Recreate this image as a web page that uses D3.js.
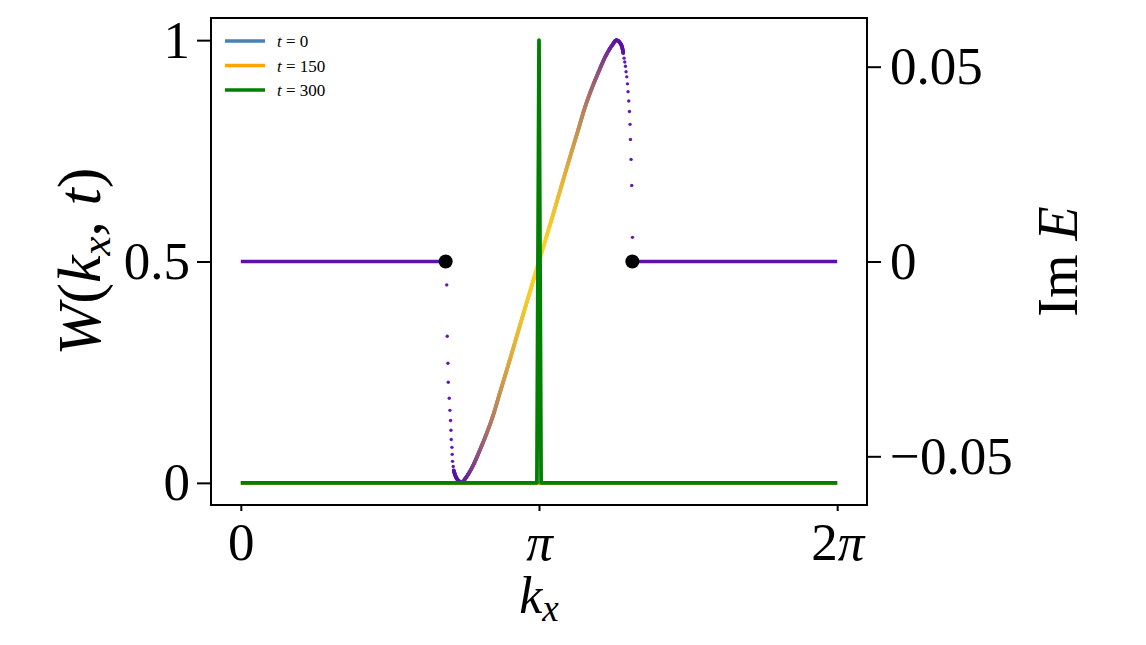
<!DOCTYPE html>
<html>
<head>
  <style>
  body {
    margin: 0;
    background: #fff;
  }
  svg text {
    font-family: "Liberation Serif", "DejaVu Serif", serif;
    fill: #000;
  }
  .axis .domain {
    display: none;
  }
  .axis .tick line {
    stroke: #000;
    stroke-width: 2px;
  }
  .axis .tick text {
    font-size: 53px;
  }
  .legend text {
    font-size: 17px;
  }
  </style>
</head>
<body>
  <div id="chart"></div>
  <script src="https://d3js.org/d3.v7.min.js"></script>
  <script>
  // k values are stored in units of pi
  var kTicks = [0, 1, 2];
  var kTickLabels = ["0", "π", "2π"];
  var wTicks = [0, 0.5, 1];
  var eTicks = [-0.05, 0, 0.05];

  // W(k_x, t) curves
  var legendLabels = ["0", "150", "300"];
  var legendColors = ["steelblue", "orange", "green"];
  var kW = [0, 0.993, 1, 1.007, 2];
  var w0 = [0, 0, 0, 0, 0];
  var w150 = [0, 0, 0, 0, 0];
  var w300 = [0, 0, 1, 0, 0];

  // Im E: flat parts, exceptional points, sparse dots, dense part
  var kFlatLeft = [0, 0.687];
  var kFlatRight = [1.313, 2];
  var kEP = [0.687, 1.313];
  var kDotsLeft = [0.6906, 0.6923, 0.6946, 0.6957, 0.6990, 0.7013, 0.7033, 0.7047, 0.7057, 0.7080, 0.7090, 0.7100, 0.7124];
  var eDotsLeft = [-0.0060, -0.0192, -0.0261, -0.0310, -0.0351, -0.0382, -0.0408, -0.0433, -0.0457, -0.0477, -0.0495, -0.0513, -0.0526];
  var kDotsRight = [1.2853, 1.2876, 1.2900, 1.2920, 1.2943, 1.2967, 1.2987, 1.3010, 1.3033, 1.3054, 1.3067, 1.3087, 1.3110, 1.3134];
  var eDotsRight = [0.0522, 0.0512, 0.0501, 0.0487, 0.0474, 0.0456, 0.0436, 0.0412, 0.0385, 0.0352, 0.0313, 0.0262, 0.0195, 0.0062];
  var kBand = [0.7140, 0.7191, 0.7258, 0.7341, 0.7415, 0.752, 0.765, 0.78, 0.80, 0.82, 0.844, 0.87, 0.90, 0.95, 1.0,
               1.05, 1.10, 1.13, 1.156, 1.18, 1.20, 1.22, 1.235, 1.248, 1.2585, 1.2659, 1.2709, 1.2776, 1.2826];
  var eBand = [-0.0536, -0.0549, -0.0559, -0.0565, -0.0568, -0.0558, -0.0543, -0.0522, -0.0487, -0.0450, -0.0400, -0.0334, -0.0258, -0.0128, 0,
               0.0128, 0.0258, 0.0334, 0.0400, 0.0450, 0.0487, 0.0522, 0.0543, 0.0558, 0.0568, 0.0566, 0.0562, 0.0553, 0.0535];

  var width = 1146, height = 645;
  var box = {left: 211, right: 867, top: 18, bottom: 505};

  var svg = d3.select("#chart").append("svg")
      .attr("width", width)
      .attr("height", height);

  var x = d3.scaleLinear().domain([-0.1, 2.1]).range([box.left, box.right]);
  var yW = d3.scaleLinear().domain([-0.05, 1.05]).range([box.bottom, box.top]);
  var yE = d3.scaleLinear().domain([-0.0625, 0.0625]).range([box.bottom, box.top]);

  var purple = "#5a12a8", gold = "#fcd226";
  var colorAt = d3.interpolateRgb(purple, gold);
  var kPeak = 1.2585;
  function tone(k) {
    var r = Math.min(1, Math.abs(k - 1) / (kPeak - 1));
    return 1 - Math.pow(r, 1.6);
  }

  var plot = svg.append("g");

  // Im E, flat parts
  var lineE = d3.line().x(function(d){ return x(d); }).y(function(){ return yE(0); });
  [kFlatLeft, kFlatRight].forEach(function(seg){
    plot.append("path")
        .attr("d", lineE(seg))
        .attr("fill", "none")
        .attr("stroke", purple)
        .attr("stroke-width", 3.6);
  });

  // Im E, dense band drawn in small coloured pieces
  var band = kBand.map(function(k, i){ return [x(k), yE(eBand[i])]; });
  var probe = plot.append("path")
      .attr("d", d3.line().curve(d3.curveCatmullRom)(band))
      .attr("fill", "none")
      .attr("stroke", "none");
  var node = probe.node(), total = node.getTotalLength(), step = 1.2;
  for (var s = 0; s < total; s += step) {
    var p0 = node.getPointAtLength(s), p1 = node.getPointAtLength(Math.min(total, s + step));
    plot.append("line")
        .attr("x1", p0.x).attr("y1", p0.y)
        .attr("x2", p1.x).attr("y2", p1.y)
        .attr("stroke", colorAt(tone(x.invert((p0.x + p1.x) / 2))))
        .attr("stroke-width", 3.8)
        .attr("stroke-linecap", "round");
  }
  probe.remove();

  // Im E, sparse dots near the exceptional points
  var dots = kDotsLeft.map(function(k, i){ return [k, eDotsLeft[i]]; })
    .concat(kDotsRight.map(function(k, i){ return [k, eDotsRight[i]]; }));
  plot.selectAll("circle.dot")
      .data(dots)
    .enter().append("circle")
      .attr("class", "dot")
      .attr("cx", function(d){ return x(d[0]); })
      .attr("cy", function(d){ return yE(d[1]); })
      .attr("r", 1.7)
      .attr("fill", "#6419b0");

  // W(k_x, t) lines
  var lineW = d3.line().x(function(d){ return x(d[0]); }).y(function(d){ return yW(d[1]); });
  [w0, w150, w300].forEach(function(ws, j){
    plot.append("path")
        .attr("d", lineW(kW.map(function(k, i){ return [k, ws[i]]; })))
        .attr("fill", "none")
        .attr("stroke", legendColors[j])
        .attr("stroke-width", 3.8)
        .attr("stroke-linejoin", "round");
  });

  // exceptional points
  plot.selectAll("circle.ep")
      .data(kEP)
    .enter().append("circle")
      .attr("class", "ep")
      .attr("cx", function(d){ return x(d); })
      .attr("cy", yE(0))
      .attr("r", 7)
      .attr("fill", "#000");

  // frame
  svg.append("rect")
      .attr("x", box.left).attr("y", box.top)
      .attr("width", box.right - box.left)
      .attr("height", box.bottom - box.top)
      .attr("fill", "none")
      .attr("stroke", "#000")
      .attr("stroke-width", 2);

  // axes
  svg.append("g")
      .attr("class", "axis")
      .attr("transform", "translate(" + box.left + ",0)")
      .call(d3.axisLeft(yW).tickValues(wTicks).tickSize(14).tickPadding(7).tickFormat(d3.format("")));

  svg.append("g")
      .attr("class", "axis")
      .attr("transform", "translate(" + box.right + ",0)")
      .call(d3.axisRight(yE).tickValues(eTicks).tickSize(14).tickPadding(9).tickFormat(d3.format("")));

  var xAxis = svg.append("g")
      .attr("class", "axis")
      .attr("transform", "translate(0," + box.bottom + ")")
      .call(d3.axisBottom(x).tickValues(kTicks).tickSize(6).tickPadding(11).tickFormat(function(d, i){ return kTickLabels[i]; }));
  xAxis.selectAll(".tick text").each(function(){
    var t = d3.select(this), s = t.text();
    if (s.indexOf("π") < 0) return;
    t.text(null);
    if (s.length > 1) t.append("tspan").text(s.slice(0, -1));
    t.append("tspan").style("font-style", "italic").text("π");
  });

  // axis labels
  var wLab = svg.append("text")
      .attr("transform", "translate(100," + yW(0.5) + ") rotate(-90)")
      .attr("text-anchor", "middle")
      .style("font-size", "62px");
  wLab.append("tspan").style("font-style", "italic").text("W");
  wLab.append("tspan").text("(");
  wLab.append("tspan").style("font-style", "italic").text("k");
  wLab.append("tspan").style("font-style", "italic").style("font-size", "43px").attr("dy", 10).text("x");
  wLab.append("tspan").attr("dy", -10).text(", ");
  wLab.append("tspan").style("font-style", "italic").text("t");
  wLab.append("tspan").text(")");

  var kLab = svg.append("text")
      .attr("x", x(1))
      .attr("y", 613)
      .attr("text-anchor", "middle")
      .style("font-size", "52px")
      .style("font-style", "italic");
  kLab.append("tspan").text("k");
  kLab.append("tspan").style("font-size", "37px").attr("dy", 8).text("x");

  var eLab = svg.append("text")
      .attr("transform", "translate(1077," + yE(0) + ") rotate(-90)")
      .attr("text-anchor", "middle")
      .style("font-size", "56px");
  eLab.append("tspan").text("Im ");
  eLab.append("tspan").style("font-style", "italic").text("E");

  // legend
  var legend = svg.append("g").attr("class", "legend");
  var items = legend.selectAll("g")
      .data(legendLabels)
    .enter().append("g")
      .attr("transform", function(d, i){ return "translate(225," + (41 + i * 24.5) + ")"; });
  items.append("line")
      .attr("x1", 0).attr("x2", 40)
      .attr("stroke", function(d, i){ return legendColors[i]; })
      .attr("stroke-width", 3.5);
  var lt = items.append("text")
      .attr("x", 52)
      .attr("y", 6);
  lt.append("tspan").style("font-style", "italic").text("t");
  lt.append("tspan").text(function(d){ return " = " + d; });
  </script>
</body>
</html>
